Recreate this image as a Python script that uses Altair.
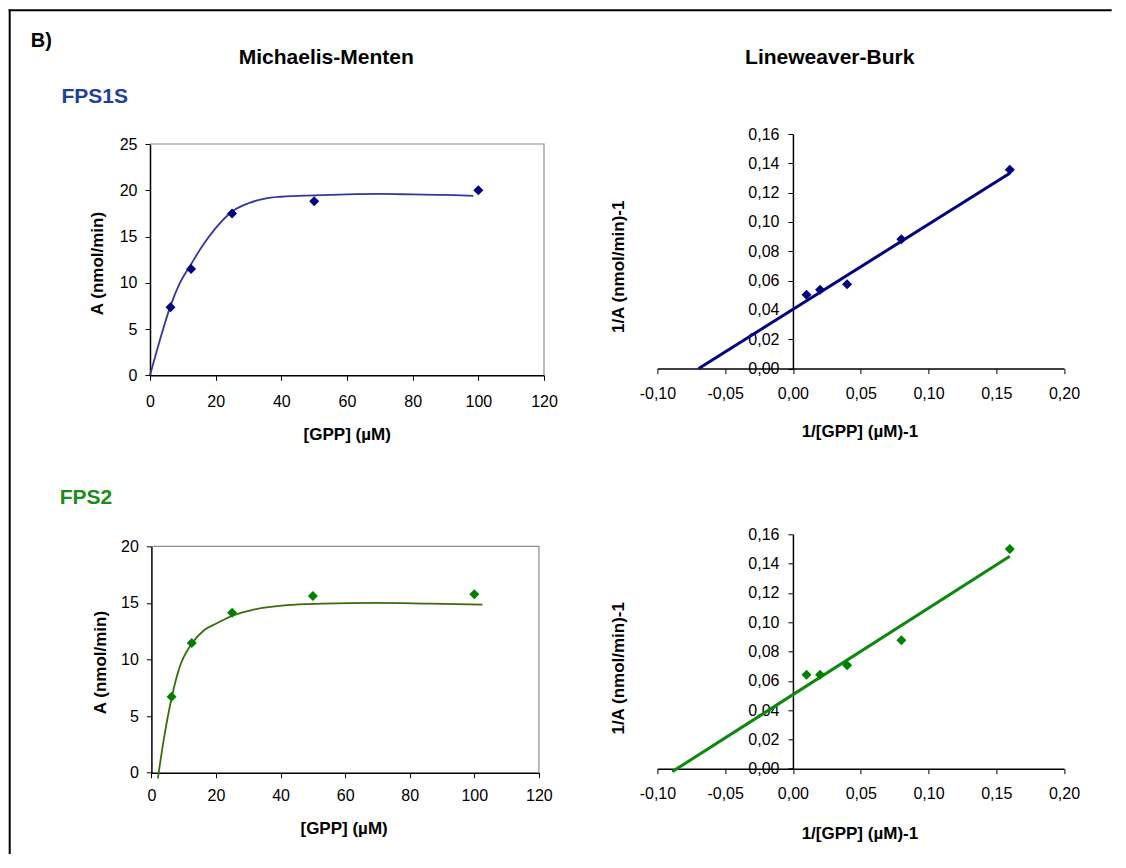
import altair as alt
import pandas as pd

# ---------------- data ----------------
gpp_um = [6.25, 12.5, 25, 50, 100]
a_fps1s = [7.35, 11.5, 17.5, 18.8, 20.0]
a_fps2 = [6.7, 11.46, 14.14, 15.6, 15.76]

inv_gpp = [0.01, 0.02, 0.04, 0.08, 0.16]
inv_a_fps1s = [0.0503, 0.0537, 0.0575, 0.0883, 0.1356]
inv_a_fps2 = [0.0642, 0.0642, 0.0706, 0.0876, 0.150]

# fitted (smoothed) Michaelis-Menten curves
fit_fps1s_x = [0, 3, 6.25, 9, 12.5, 16, 20, 25, 30, 35, 40, 50, 60, 70, 80, 90, 98.5]
fit_fps1s_y = [0, 3.8, 7.5, 9.9, 12.0, 14.0, 15.9, 17.7, 18.6, 19.1, 19.3, 19.45, 19.55, 19.6, 19.55, 19.5, 19.4]
fit_fps2_x = [2.0, 3.7, 6.25, 8.6, 12.5, 16.4, 20.3, 25.3, 30.8, 41.9, 52.9, 69.5, 86.2, 102.5]
fit_fps2_y = [-0.5, 2.7, 6.6, 9.2, 11.4, 12.6, 13.2, 13.9, 14.35, 14.8, 14.93, 15.0, 14.93, 14.85]

# Lineweaver-Burk regression lines (end points)
lb_fps1s_x = [-0.0695, 0.16]
lb_fps1s_y = [0.0, 0.1333]
lb_fps2_x = [-0.089, 0.16]
lb_fps2_y = [-0.002, 0.145]

mm_x_domain = [0, 120]
mm1_y_domain = [0, 25]
mm2_y_domain = [0, 20]
lb_x_domain = [-0.10, 0.20]
lb_y_domain = [0.0, 0.16]

mm_x_ticks = [0, 20, 40, 60, 80, 100, 120]
mm1_y_ticks = [0, 5, 10, 15, 20, 25]
mm2_y_ticks = [0, 5, 10, 15, 20]
lb_x_ticks = [-0.10, -0.05, 0.0, 0.05, 0.10, 0.15, 0.20]
lb_y_ticks = [0.0, 0.02, 0.04, 0.06, 0.08, 0.10, 0.12, 0.14, 0.16]

# ---------------- styling ----------------
FONT = "Liberation Sans"
NAVY = "#000080"
BLUE_CURVE = "#35359e"
GREEN_PT = "#008000"
GREEN_CURVE = "#3c6b0c"
GREEN_LINE = "#0e870e"
FRAME_GREY = "#8c8c8c"
COMMA_LABEL = "(datum.value < -0.0001 ? '-' : '') + replace(format(abs(datum.value), '.2f'), '.', ',')"


def make_axis(**kw):
    base = dict(grid=False, labelFlush=False, labelOverlap=False, labelBound=False,
                domainColor="black", tickColor="black", labelColor="black", titleColor="black",
                labelFont=FONT, titleFont=FONT, labelFontSize=16, titleFontSize=17,
                titleFontWeight="bold", tickSize=5, tickWidth=1, domainWidth=1.5,
                titleAlign="center", titleBaseline="middle")
    base.update(kw)
    return alt.Axis(**base)


def mm_panel(points_y, fit_x, fit_y, y_domain, y_ticks, y_range, x_range, width, height,
             pt_color, curve_color, xtitle_pos, ytitle_pos, y_offset, xlab_pad):
    xenc = alt.X("gpp:Q", scale=alt.Scale(domain=mm_x_domain, range=x_range, nice=False, zero=False),
                 axis=make_axis(values=mm_x_ticks, format="d", title="[GPP] (µM)", labelAngle=0,
                                labelPadding=xlab_pad, titleX=xtitle_pos[0], titleY=xtitle_pos[1]))
    yenc = alt.Y("a:Q", scale=alt.Scale(domain=y_domain, range=y_range, nice=False, zero=False),
                 axis=make_axis(values=y_ticks, format="d", title="A (nmol/min)", labelPadding=8,
                                titleAngle=270, offset=y_offset,
                                titleX=ytitle_pos[0], titleY=ytitle_pos[1]))
    frame_df = pd.DataFrame({"gpp": [mm_x_domain[0], mm_x_domain[1], mm_x_domain[1]],
                             "a": [y_domain[1], y_domain[1], y_domain[0]],
                             "o": [0, 1, 2]})
    frame = alt.Chart(frame_df).mark_line(color=FRAME_GREY, strokeWidth=1.2).encode(
        x=xenc, y=yenc, order="o:Q")
    curve = alt.Chart(pd.DataFrame({"gpp": fit_x, "a": fit_y})).mark_line(
        color=curve_color, strokeWidth=1.8, interpolate="monotone").encode(x=xenc, y=yenc)
    pts = alt.Chart(pd.DataFrame({"gpp": gpp_um, "a": points_y})).mark_point(
        shape="diamond", filled=True, size=100, opacity=1, color=pt_color).encode(x=xenc, y=yenc)
    return [frame, curve, pts]


def lb_panel(points_y, line_x, line_y, width, height, color, line_color, xtitle_pos, ytitle_pos):
    y_axis_offset = -width * (0 - lb_x_domain[0]) / (lb_x_domain[1] - lb_x_domain[0])
    xenc = alt.X("inv_s:Q", scale=alt.Scale(domain=lb_x_domain, nice=False, zero=False),
                 axis=make_axis(values=lb_x_ticks, labelExpr=COMMA_LABEL, title="1/[GPP] (µM)-1",
                                labelAngle=0, labelPadding=12,
                                titleX=xtitle_pos[0], titleY=xtitle_pos[1]))
    yenc = alt.Y("inv_v:Q", scale=alt.Scale(domain=lb_y_domain, nice=False, zero=False),
                 axis=make_axis(values=lb_y_ticks, labelExpr=COMMA_LABEL, title="1/A (nmol/min)-1",
                                labelPadding=9, titleAngle=270, offset=y_axis_offset,
                                titleX=ytitle_pos[0], titleY=ytitle_pos[1]))
    line = alt.Chart(pd.DataFrame({"inv_s": line_x, "inv_v": line_y})).mark_line(
        color=line_color, strokeWidth=3).encode(x=xenc, y=yenc)
    pts = alt.Chart(pd.DataFrame({"inv_s": inv_gpp, "inv_v": points_y})).mark_point(
        shape="diamond", filled=True, size=100, opacity=1, color=color).encode(x=xenc, y=yenc)
    return alt.layer(line, pts).properties(width=width, height=height)


def label(text, x, y, size, color="black", align="left"):
    return alt.Chart(alt.Data(values=[{}])).mark_text(
        text=text, font=FONT, fontSize=size, fontWeight="bold", color=color,
        align=align, baseline="middle").encode(x=alt.value(x), y=alt.value(y))


# ---- panel geometry (cell origin of top-left panel at page (149.3, 132.7)) ----
MM_W = 394
LB_W = 406.6
ROW1_MM_H = 241.3
ROW1_LB_H = 234.6
ROW2_MM_H = 238.4
ROW2_LB_H = 234.4

mm1_layers = mm_panel(a_fps1s, fit_fps1s_x, fit_fps1s_y, mm1_y_domain, mm1_y_ticks,
                      [ROW1_MM_H, 10.0], [0, MM_W], MM_W, ROW1_MM_H, NAVY, BLUE_CURVE,
                      (196.7, 59), (-52.9, 129), 0, 13)

page_frame_top = alt.Chart(alt.Data(values=[{}])).mark_rule(
    color="black", strokeWidth=2, strokeCap="square").encode(
    x=alt.value(-140.3), x2=alt.value(960.7), y=alt.value(-123.7))
page_frame_left = alt.Chart(alt.Data(values=[{}])).mark_rule(
    color="black", strokeWidth=2, strokeCap="square").encode(
    x=alt.value(-140.3), y=alt.value(-123.7), y2=alt.value(719.0))

texts = [
    label("B)", -119.3, -92.7, 20),
    label("Michaelis-Menten", 176.2, -76, 21, align="center"),
    label("Lineweaver-Burk", 679.7, -76, 21, align="center"),
    label("FPS1S", -88.6, -37, 21, color="#1f3f9c"),
    label("FPS2", -90.3, 364, 21, color="#1a8c1a"),
]

mm1 = alt.layer(*mm1_layers, page_frame_top, page_frame_left, *texts).properties(
    width=MM_W, height=ROW1_MM_H)

lb1 = lb_panel(inv_a_fps1s, lb_fps1s_x, lb_fps1s_y, LB_W, ROW1_LB_H, NAVY, NAVY,
               (202, 62.7), (-174.4, 132.3))

mm2 = alt.layer(*mm_panel(a_fps2, fit_fps2_x, fit_fps2_y, mm2_y_domain, mm2_y_ticks,
                          [ROW2_MM_H, 12.0], [1.4, 388.9], MM_W, ROW2_MM_H, GREEN_PT, GREEN_CURVE,
                          (193.6, 56), (-50.7, 127.7), -1.4, 10)).properties(
    width=MM_W, height=ROW2_MM_H)

lb2 = lb_panel(inv_a_fps2, lb_fps2_x, lb_fps2_y, LB_W, ROW2_LB_H, GREEN_PT, GREEN_LINE,
               (202, 65), (-174.4, 133.5))

chart = alt.concat(mm1, lb1, mm2, lb2, columns=2, bounds="flush",
                   spacing={"row": 158.3, "column": 113.4}).properties(
    padding=0, background="white").configure_view(strokeWidth=0)

chart.save("out.html", embed_options={"renderer": "svg", "actions": False})
